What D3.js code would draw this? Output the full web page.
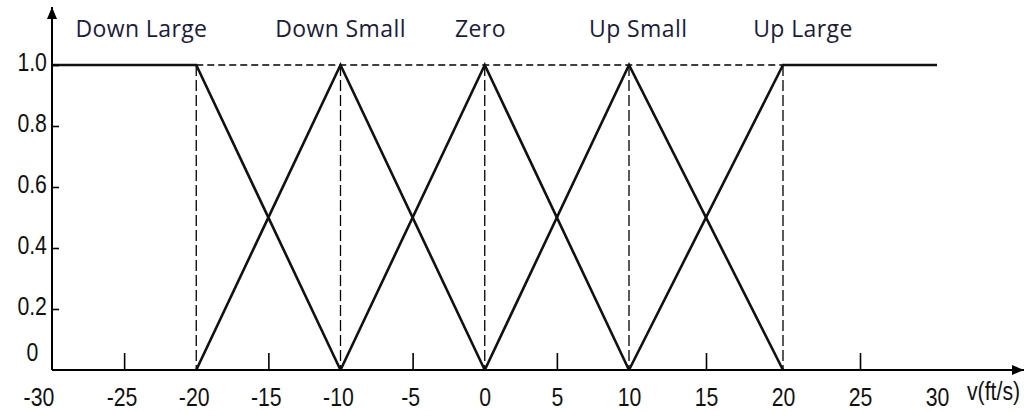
<!DOCTYPE html>
<html>
<head>
<meta charset="utf-8">
<script src="https://cdn.jsdelivr.net/npm/d3@7"></script>
<style>
  body { margin: 0; background: #fff; }
  svg { display: block; }
  .tick text, .unit { font-family: "Liberation Sans", Arial, sans-serif; font-size: 25px; fill: #111; }
  .cat { font-family: "Open Sans", Lato, sans-serif; font-size: 23px; letter-spacing: 0.4px; fill: #1c1c3a; }
</style>
</head>
<body>
<svg width="1036" height="412"></svg>
<script>

// membership sets, each a list of [v, mu] corners
var categories = ['Down Large', 'Down Small', 'Zero', 'Up Small', 'Up Large'];
var peaks = [-20, -10, 0, 10, 20];
var labelAt = [-23.8, -10, -0.3, 10.6, 21.3];   // where the names sit, in ft/s
var sets = [
  [[-30, 1], [-20, 1], [-10, 0]],
  [[-20, 0], [-10, 1], [0, 0]],
  [[-10, 0], [0, 1], [10, 0]],
  [[0, 0], [10, 1], [20, 0]],
  [[10, 0], [20, 1], [30, 1]]
];
var xTicks = [-30, -25, -20, -15, -10, -5, 0, 5, 10, 15, 20, 25, 30];
var yTicks = [0, 0.2, 0.4, 0.6, 0.8, 1.0];

window.onload = function(){

  var svg = d3.select('svg');
  var narrow = 'scale(0.85,1)';   // the original digits are tall and thin

  // the drawing is hand made, right half is a bit wider
  var x = d3.scaleLinear().domain([-30, 10, 30]).range([52, 629, 937]);
  var y = d3.scaleLinear().domain([0, 1]).range([370, 65]);

  // dashed guides
  svg.append('line')
      .attr('x1', x(-20)).attr('x2', x(20))
      .attr('y1', y(1)).attr('y2', y(1))
      .attr('stroke', '#000').attr('stroke-width', 1.3)
      .attr('stroke-dasharray', '7,4');

  svg.selectAll('.guide')
      .data(peaks)
      .enter()
      .append('line')
        .attr('class', 'guide')
        .attr('x1', function(d){ return x(d) }).attr('x2', function(d){ return x(d) })
        .attr('y1', y(1)).attr('y2', y(0))
        .attr('stroke', '#000').attr('stroke-width', 1.3)
        .attr('stroke-dasharray', '11,4');

  // membership lines
  var line = d3.line()
      .x(function(d){ return x(d[0]) })
      .y(function(d){ return y(d[1]) });

  svg.selectAll('.mf')
      .data(sets)
      .enter()
      .append('path')
        .attr('class', 'mf')
        .attr('d', line)
        .attr('fill', 'none')
        .attr('stroke', '#111')
        .attr('stroke-width', 2.6);

  // axes
  var xAxis = d3.axisBottom(x)
      .tickValues(xTicks)
      .tickSize(-17)
      .tickSizeOuter(0)
      .tickPadding(18)
      .tickFormat(function(d){ return String(d) });

  var gx = svg.append('g')
      .attr('transform', 'translate(0,' + y(0) + ')')
      .call(xAxis);
  gx.select('.domain').remove();
  gx.selectAll('.tick line')
      .attr('stroke-width', 1.6)
      .filter(function(d){ return d % 10 === 0 })
      .remove();
  gx.selectAll('.tick text')
      .attr('transform', narrow)
      .attr('dx', function(d){ return d === -30 ? -16 : (d < 0 ? -3 : 0) });

  var yAxis = d3.axisLeft(y)
      .tickValues(yTicks)
      .tickSize(-7)
      .tickSizeOuter(0)
      .tickPadding(6)
      .tickFormat(function(d){ return d === 0 ? '0' : d3.format('.1f')(d) });

  var gy = svg.append('g')
      .attr('transform', 'translate(' + x(-30) + ',0)')
      .call(yAxis);
  gy.select('.domain').remove();
  gy.selectAll('.tick line').attr('stroke-width', 1.6);
  gy.selectAll('.tick text')
      .attr('transform', narrow)
      .attr('dy', '0.2em');
  gy.selectAll('.tick')
      .filter(function(d){ return d === 0 })
      .call(function(t){
        t.select('line').remove();
        t.select('text').attr('dy', '-0.4em').attr('x', -16);
      });

  // axis lines with arrow heads
  svg.append('defs').append('marker')
      .attr('id', 'arrow')
      .attr('viewBox', '0 0 12 10')
      .attr('refX', 12).attr('refY', 5)
      .attr('markerWidth', 12).attr('markerHeight', 10)
      .attr('markerUnits', 'userSpaceOnUse')
      .attr('orient', 'auto')
    .append('path')
      .attr('d', 'M0,0 L12,5 L0,10 Z')
      .attr('fill', '#000');

  svg.append('line')
      .attr('x1', x(-30)).attr('x2', 1024)
      .attr('y1', y(0)).attr('y2', y(0))
      .attr('stroke', '#000').attr('stroke-width', 2)
      .attr('marker-end', 'url(#arrow)');

  svg.append('line')
      .attr('x1', x(-30)).attr('x2', x(-30))
      .attr('y1', y(0)).attr('y2', 7)
      .attr('stroke', '#000').attr('stroke-width', 2)
      .attr('marker-end', 'url(#arrow)');

  svg.append('text')
      .attr('class', 'unit')
      .attr('transform', 'translate(967,400) ' + narrow)
      .text('v(ft/s)');

  // set names
  svg.selectAll('.cat')
      .data(categories)
      .enter()
      .append('text')
        .attr('class', 'cat')
        .attr('x', function(d, i){ return x(labelAt[i]) })
        .attr('y', 37)
        .attr('text-anchor', 'middle')
        .text(function(d){ return d });

}
</script>
</body>
</html>
